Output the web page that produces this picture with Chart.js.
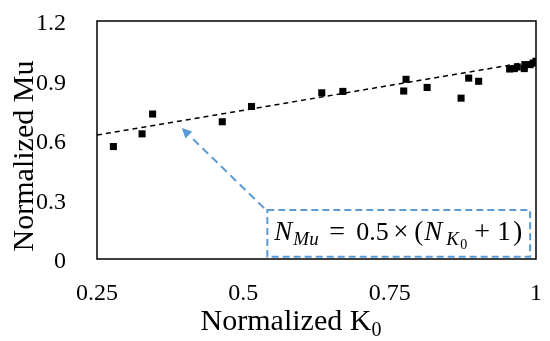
<!DOCTYPE html>
<html>
<head>
<meta charset="utf-8">
<script src="https://cdn.jsdelivr.net/npm/chart.js@4.4.0/dist/chart.umd.min.js"></script>
<style>
  html, body { margin: 0; padding: 0; background: #fff; }
  #wrap { width: 550px; height: 341px; }
</style>
</head>
<body>
<div id="wrap"><canvas id="chart" width="550" height="341"></canvas></div>
<script>
// measured points (normalized K0 vs normalized Mu)
const kValues  = [0.278, 0.327, 0.345, 0.464, 0.514, 0.634, 0.670, 0.774, 0.778, 0.814, 0.872, 0.885, 0.902,
                  0.955, 0.963, 0.968, 0.980, 0.981, 0.990, 0.995, 1.000];
const muValues = [0.567, 0.631, 0.731, 0.692, 0.769, 0.838, 0.845, 0.847, 0.906, 0.865, 0.811, 0.912, 0.896,
                  0.958, 0.960, 0.968, 0.960, 0.980, 0.980, 0.988, 0.997];

// fitted line N_Mu = 0.5 * (N_K0 + 1)
const fitK = [0.25, 1];
const fitMu = [0.625, 1];

const xTickLabels = ['0.25', '0.5', '0.75', '1'];
const yTickLabels = ['0', '0.3', '0.6', '0.9', '1.2'];

const serif = '"Liberation Serif", "Times New Roman", serif';
const blue = '#5B9BD5';

// --- extra drawing: frame, axis titles, equation box + arrow ---
const decorPlugin = {
    id: 'decor',
    afterDraw(chart) {
        const ctx = chart.ctx;
        const area = chart.chartArea;
        const xs = chart.scales.x;
        const ys = chart.scales.y;

        ctx.save();
        // plot frame
        ctx.strokeStyle = '#000';
        ctx.lineWidth = 1.5;
        ctx.strokeRect(area.left, area.top, area.right - area.left, area.bottom - area.top);

        // y title
        ctx.fillStyle = '#000';
        ctx.font = '30px ' + serif;
        ctx.textAlign = 'center';
        ctx.textBaseline = 'alphabetic';
        ctx.save();
        ctx.translate(33, 156);
        ctx.rotate(-Math.PI / 2);
        ctx.fillText('Normalized Mu', 0, 0);
        ctx.restore();

        // x title with subscript
        const main = 'Normalized K';
        ctx.font = '30px ' + serif;
        const w1 = ctx.measureText(main).width;
        ctx.font = '20px ' + serif;
        const w2 = ctx.measureText('0').width;
        let tx = 291 - (w1 + w2) / 2;
        ctx.textAlign = 'left';
        ctx.font = '30px ' + serif;
        ctx.fillText(main, tx, 330);
        ctx.font = '20px ' + serif;
        ctx.fillText('0', tx + w1, 336);

        // equation box
        const bx1 = xs.getPixelForValue(0.541), bx2 = xs.getPixelForValue(0.99);
        const by1 = ys.getPixelForValue(0.247), by2 = ys.getPixelForValue(0.0116);
        ctx.strokeStyle = blue;
        ctx.lineWidth = 2;
        ctx.setLineDash([7, 4]);
        ctx.strokeRect(bx1, by1, bx2 - bx1, by2 - by1);

        // arrow
        const ax1 = xs.getPixelForValue(0.5355), ay1 = ys.getPixelForValue(0.2565);
        const ax2 = xs.getPixelForValue(0.3948), ay2 = ys.getPixelForValue(0.660);
        const ang = Math.atan2(ay2 - ay1, ax2 - ax1);
        const headLen = 11;
        ctx.setLineDash([8, 5]);
        ctx.beginPath();
        ctx.moveTo(ax1, ay1);
        ctx.lineTo(ax2 - Math.cos(ang) * headLen, ay2 - Math.sin(ang) * headLen);
        ctx.stroke();
        ctx.setLineDash([]);
        ctx.fillStyle = blue;
        ctx.beginPath();
        ctx.moveTo(ax2, ay2);
        ctx.lineTo(ax2 - Math.cos(ang - 0.45) * headLen, ay2 - Math.sin(ang - 0.45) * headLen);
        ctx.lineTo(ax2 - Math.cos(ang + 0.45) * headLen, ay2 - Math.sin(ang + 0.45) * headLen);
        ctx.closePath();
        ctx.fill();

        // equation text: N_Mu = 0.5 × (N_K0 + 1), offsets from the box's left edge
        const parts = [
            { t: 'N',   f: 'italic 27px ', dx: 7,   dy: 0 },
            { t: 'Mu',  f: 'italic 19px ', dx: 26,  dy: 5 },
            { t: '=',   f: '28px ',        dx: 62,  dy: 0 },
            { t: '0.5', f: '26px ',        dx: 89,  dy: 0 },
            { t: '×',   f: '27px ',        dx: 126, dy: 0 },
            { t: '(',   f: '27px ',        dx: 147, dy: 0 },
            { t: 'N',   f: 'italic 27px ', dx: 157, dy: 0 },
            { t: 'K',   f: 'italic 19px ', dx: 179, dy: 5 },
            { t: '0',   f: '14px ',        dx: 193, dy: 9 },
            { t: '+',   f: '28px ',        dx: 207, dy: 0 },
            { t: '1',   f: '27px ',        dx: 230, dy: 0 },
            { t: ')',   f: '27px ',        dx: 246, dy: 0 }
        ];
        const base = by2 - 17;
        ctx.fillStyle = '#000';
        ctx.textAlign = 'left';
        parts.forEach(p => {
            ctx.font = p.f + serif;
            ctx.fillText(p.t, bx1 + p.dx, base + p.dy);
        });
        ctx.restore();
    }
};

const data = {
    datasets: [
        {
            type: 'scatter',
            label: 'Data',
            data: kValues.map((k, i) => ({ x: k, y: muValues[i] })),
            pointStyle: 'rect',
            pointRadius: 5,
            backgroundColor: '#000',
            borderColor: '#000',
            borderWidth: 0
        },
        {
            type: 'line',
            label: 'Fit',
            data: fitK.map((k, i) => ({ x: k, y: fitMu[i] })),
            borderColor: '#000',
            borderWidth: 1.5,
            borderDash: [5, 4],
            pointRadius: 0,
            fill: false
        }
    ]
};

const config = {
    type: 'scatter',
    data: data,
    options: {
        responsive: false,
        animation: false,
        layout: { padding: 0 },
        plugins: {
            legend: { display: false },
            tooltip: { enabled: false }
        },
        scales: {
            x: {
                type: 'linear',
                min: 0.25,
                max: 1,
                grid: { display: false },
                border: { display: false },
                afterFit: function(s) {
                    s.height = 82;
                    s.paddingLeft = 0;
                    s.paddingRight = 14;
                },
                afterBuildTicks: function(s) {
                    s.ticks = xTickLabels.map(v => ({ value: parseFloat(v) }));
                },
                ticks: {
                    autoSkip: false,
                    maxRotation: 0,
                    padding: 12,
                    color: '#000',
                    font: { family: serif, size: 24 },
                    callback: function(v, i) { return xTickLabels[i]; }
                }
            },
            y: {
                type: 'linear',
                min: 0,
                max: 1.2,
                grid: { display: false },
                border: { display: false },
                afterFit: function(s) {
                    s.width = 97;
                    s.paddingTop = 21;
                    s.paddingBottom = 0;
                },
                afterBuildTicks: function(s) {
                    s.ticks = yTickLabels.map(v => ({ value: parseFloat(v) }));
                },
                ticks: {
                    autoSkip: false,
                    padding: 23,
                    labelOffset: 3,
                    color: '#000',
                    font: { family: serif, size: 24 },
                    callback: function(v, i) { return yTickLabels[i]; }
                }
            }
        }
    },
    plugins: [decorPlugin]
};

new Chart(document.getElementById('chart'), config);
</script>
</body>
</html>
